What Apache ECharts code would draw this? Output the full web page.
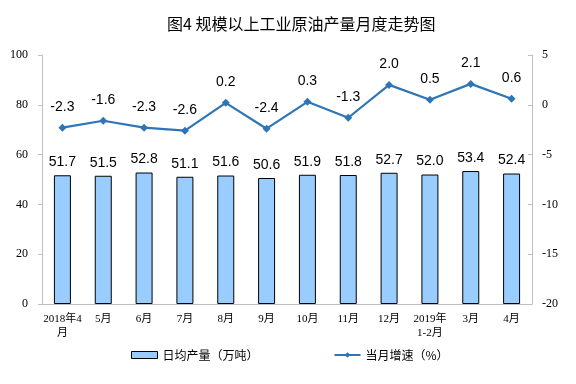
<!DOCTYPE html>
<html><head><meta charset="utf-8">
<script src="https://cdn.jsdelivr.net/npm/echarts@6/dist/echarts.min.js"></script>
<style>html,body{margin:0;padding:0;background:#fff}#c{width:576px;height:384px}</style>
</head><body><div id="c"></div>
<script>
const categories = ['2018年4\n月','5月','6月','7月','8月','9月','10月','11月','12月','2019年\n1-2月','3月','4月'];
const output = [51.7,51.5,52.8,51.1,51.6,50.6,51.9,51.8,52.7,52.0,53.4,52.4];
const growth = [-2.3,-1.6,-2.3,-2.6,0.2,-2.4,0.3,-1.3,2.0,0.5,2.1,0.6];
const leftTicks = [0,20,40,60,80,100];
const rightTicks = [-20,-15,-10,-5,0,5];

const chart = echarts.init(document.getElementById('c'));
const cjk = "'Noto Sans CJK SC', sans-serif";
const serif = "'Liberation Serif','Noto Sans CJK SC', serif";
chart.setOption({
  animation:false,
  title:{text:'图4 规模以上工业原油产量月度走势图',left:162,top:11,
    textStyle:{fontFamily:cjk,fontSize:16,fontWeight:'normal',color:'#000'}},
  grid:{left:42,right:44,top:55,bottom:80},
  legend:{top:344,left:126,itemGap:75,textStyle:{fontFamily:cjk,fontSize:12,color:'#000'},
    data:[{name:'日均产量（万吨）',icon:'rect',itemStyle:{color:'#99CCFF',borderColor:'#000',borderWidth:1}},
          {name:'当月增速（%）'}],
    itemWidth:26,itemHeight:7},
  xAxis:{type:'category',data:categories,
    axisLine:{lineStyle:{color:'#BFBFBF'}},
    axisTick:{inside:true,length:3,lineStyle:{color:'#BFBFBF'}},
    axisLabel:{fontFamily:serif,fontSize:11,color:'#000',interval:0,lineHeight:14,margin:8}},
  yAxis:[
    {type:'value',min:0,max:100,interval:20,
     axisLine:{show:true,lineStyle:{color:'#BFBFBF'}},
     axisTick:{show:true,length:4,lineStyle:{color:'#BFBFBF'}},
     splitLine:{show:false},
     axisLabel:{fontFamily:serif,fontSize:12,color:'#000',margin:14,
       formatter:v=>leftTicks.includes(v)?String(v):''}},
    {type:'value',min:-20,max:5,interval:5,
     axisLine:{show:true,lineStyle:{color:'#BFBFBF'}},
     axisTick:{show:true,inside:true,length:4,lineStyle:{color:'#BFBFBF'}},
     splitLine:{show:false},
     axisLabel:{fontFamily:serif,fontSize:12,color:'#000',margin:10,
       formatter:v=>rightTicks.includes(v)?String(v):''}}
  ],
  series:[
    {name:'日均产量（万吨）',type:'bar',data:output,barWidth:17,
     itemStyle:{color:'#99CCFF',borderColor:'#000',borderWidth:1},
     label:{show:true,position:'top',distance:6,fontFamily:"Arial, 'Liberation Sans'",fontSize:14,color:'#000',
       formatter:p=>p.value.toFixed(1)}},
    {name:'当月增速（%）',type:'line',yAxisIndex:1,data:growth,
     symbol:'diamond',symbolSize:8,
     lineStyle:{color:'#2E75B6',width:2.2},
     itemStyle:{color:'#2E75B6'},
     label:{show:true,position:'top',distance:10,fontFamily:"Arial, 'Liberation Sans'",fontSize:14,color:'#000',
       formatter:p=>p.value.toFixed(1)}}
  ]
});
</script></body></html>
